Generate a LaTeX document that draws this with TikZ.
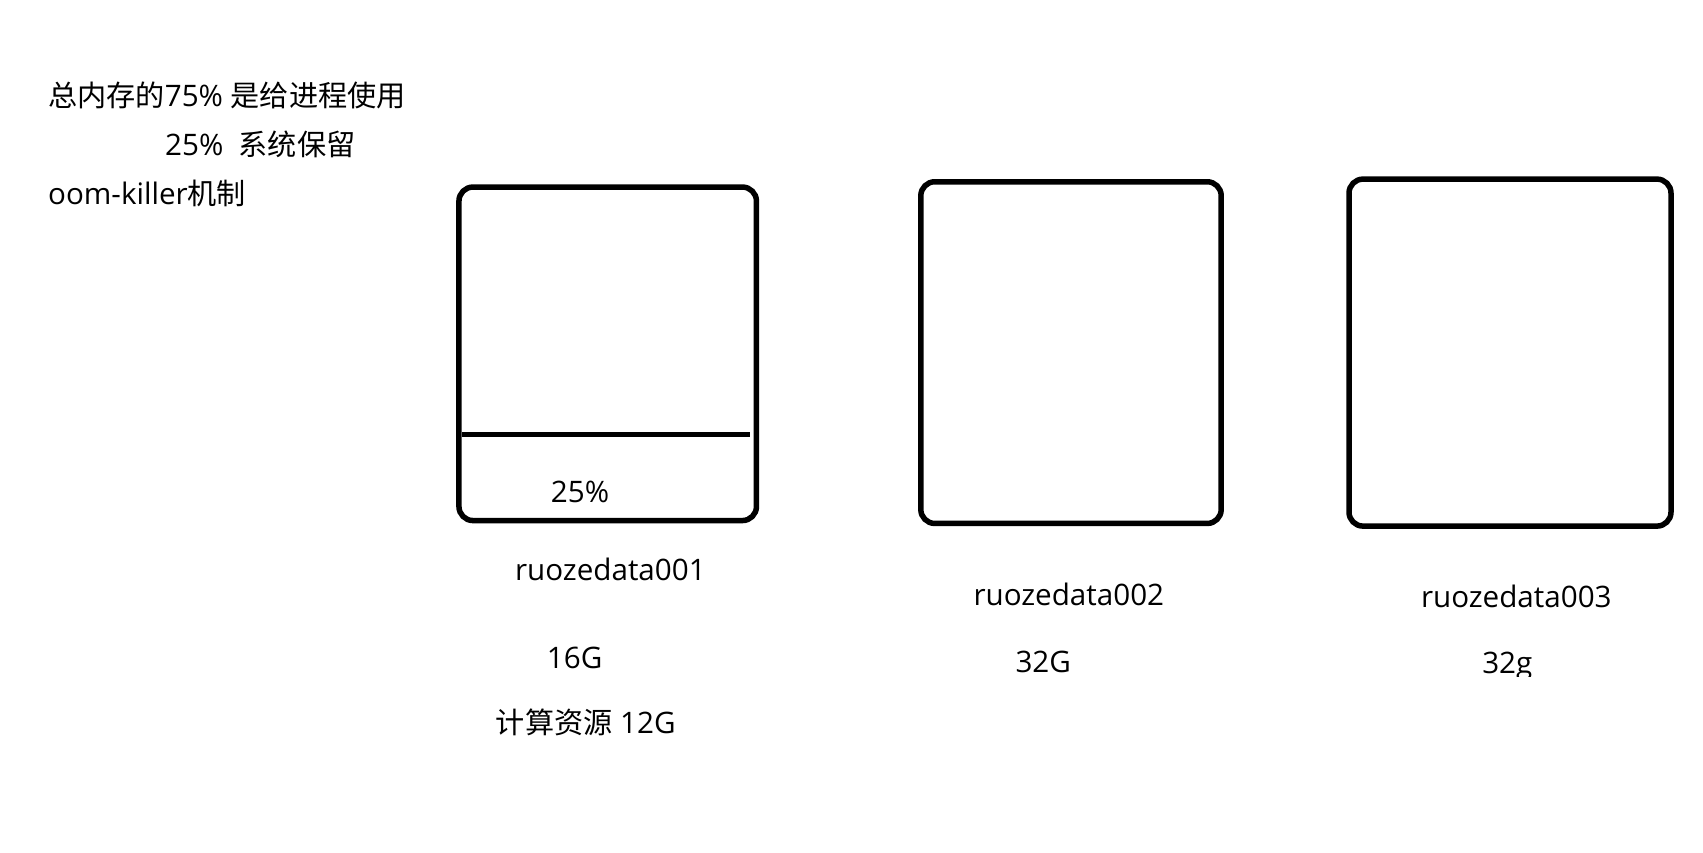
\documentclass[tikz,border=0pt]{standalone}
\usepackage{fontspec}
\setmainfont{Open Sans}
\newfontfamily\cjk[Scale=0.985]{Noto Sans CJK SC}
\begin{document}
\begin{tikzpicture}[x=1pt,y=-1pt,
  box/.style={draw=black, line width=5.5pt, rounded corners=14pt, inner sep=0pt},
  lbl/.style={inner sep=0pt, font=\fontsize{29.6}{36}\selectfont},
  divider/.style={line width=5pt}]
\fill[white] (0,0) rectangle (1703,852);
\useasboundingbox (0,0) rectangle (1703,852);
% notes at top left
\node[lbl, anchor=west] (t1) at (48,95) {{\cjk 总内存的}75\% {\cjk 是给进程使用}};
\node[lbl, anchor=west] (t2) at (165,144) {25\%\ \ {\cjk 系统保留}};
\node[lbl, anchor=west] (t3) at (48,193) {oom-killer{\cjk 机制}};
% boxes
\node[box, minimum width=297.5pt, minimum height=333.5pt] (b1) at (607.7,353.8) {};
\node[box, minimum width=300.4pt, minimum height=341.7pt] (b2) at (1071,352.6) {};
\node[box, minimum width=322pt, minimum height=347pt] (b3) at (1510,352.6) {};
% divider in box 1
\coordinate (dl) at (462,434);
\coordinate (dr) at (750,434);
\draw[divider] (dl) -- (dr);
\node[lbl] (p25) at (580,491.7) {25\%};
% labels
\node[lbl] (n1) at (610.4,569) {ruozedata001};
\node[lbl] (m1) at (574.6,657.5) {16G};
\node[lbl] (c1) at (585.7,722.7) {{\cjk 计算资源} 12G};
\node[lbl] (n2) at (1068.8,594) {ruozedata002};
\node[lbl] (m2) at (1043.2,661.8) {32G};
\node[lbl] (n3) at (1516.3,596.6) {ruozedata003};
\begin{scope}
\clip (0,0) rectangle (1703,676.5);
\node[lbl, anchor=base] (m3) at (1507.3,673) {32g};
\end{scope}
\end{tikzpicture}
\end{document}
